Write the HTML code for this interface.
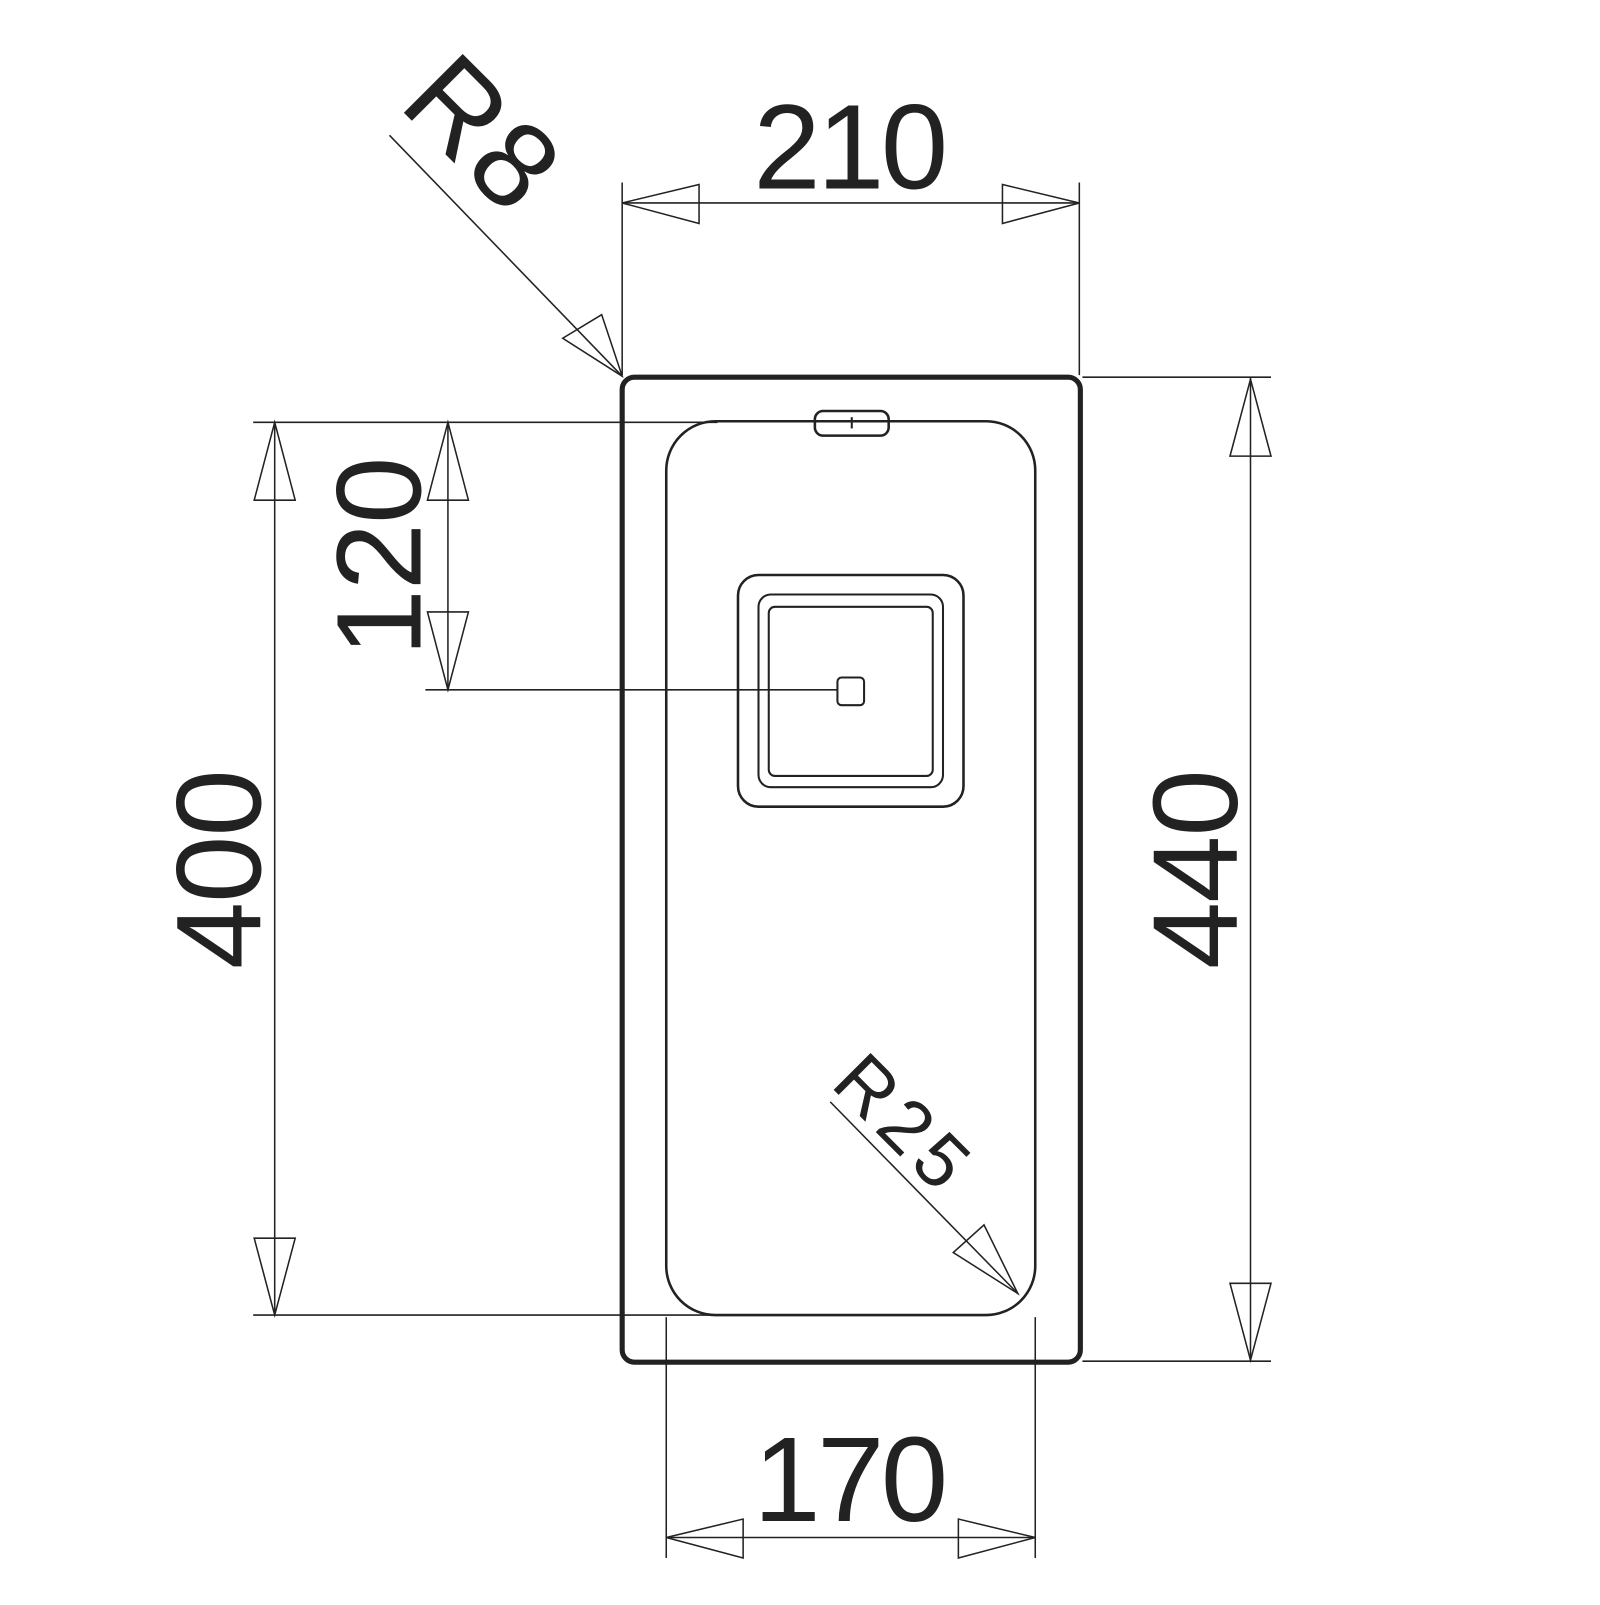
<!DOCTYPE html>
<html><head><style>html,body{margin:0;padding:0;background:#fff}</style></head>
<body>
<svg width="1600" height="1600" xmlns="http://www.w3.org/2000/svg" font-family="Liberation Sans, sans-serif" fill="none" stroke="#222">
<g transform="scale(1.025)">
<rect x="607" y="368" width="447" height="961" rx="12" stroke-width="5"/>
<rect x="650" y="411" width="360" height="872" rx="48" stroke-width="2.5"/>
<rect x="720" y="561" width="220" height="226" rx="20" stroke-width="2.5"/>
<rect x="740" y="580" width="180" height="188" rx="12" stroke-width="2"/>
<rect x="750" y="592" width="160" height="165" rx="6" stroke-width="2"/>
<rect x="817" y="661" width="26" height="27" rx="4" stroke-width="2"/>
<rect x="795" y="401" width="72" height="24" rx="8" stroke-width="2.5"/>
<line x1="831" y1="407" x2="831" y2="418" stroke-width="2"/>
<g stroke-width="1.5">
<line x1="607" y1="178" x2="607" y2="366"/><line x1="1053" y1="178" x2="1053" y2="366"/>
<line x1="607" y1="198" x2="1053" y2="198"/>
<polygon points="607,198 682,180 682,218"/><polygon points="1053,198 978,180 978,218"/>
<line x1="650" y1="1285" x2="650" y2="1520"/><line x1="1010" y1="1285" x2="1010" y2="1520"/>
<line x1="650" y1="1500" x2="1010" y2="1500"/>
<polygon points="650,1500 725,1482 725,1520"/><polygon points="1010,1500 935,1482 935,1520"/>
<line x1="247" y1="412" x2="700" y2="412"/><line x1="247" y1="1283" x2="700" y2="1283"/>
<line x1="268" y1="412" x2="268" y2="1283"/>
<polygon points="268,412 248,488 288,488"/><polygon points="268,1283 248,1208 288,1208"/>
<line x1="437" y1="412" x2="437" y2="673"/>
<polygon points="437,412 417,488 457,488"/><polygon points="437,673 417,597 457,597"/>
<line x1="415" y1="673" x2="817" y2="673"/>
<line x1="1056" y1="368" x2="1240" y2="368"/><line x1="1056" y1="1328" x2="1240" y2="1328"/>
<line x1="1220" y1="368" x2="1220" y2="1328"/>
<polygon points="1220,370 1200,445 1240,445"/><polygon points="1220,1327 1200,1252 1240,1252"/>
<line x1="380" y1="132" x2="607" y2="367"/>
<polygon points="607,367 549,330 587,307"/>
<line x1="810" y1="1075" x2="993" y2="1262"/>
<polygon points="993,1262 930,1222 960,1195"/>
</g>
<g fill="#222" stroke="none" font-size="118" text-anchor="middle">
<text x="830" y="184" textLength="190">210</text>
<text x="830" y="1484" textLength="190">170</text>
<text transform="translate(254,848) rotate(-90)" textLength="195">400</text>
<text transform="translate(410,543) rotate(-90)" textLength="195">120</text>
<text transform="translate(1207,848) rotate(-90)" textLength="195">440</text>
<text transform="translate(442,158) rotate(45)" textLength="155">R8</text>
<text transform="translate(862,1112) rotate(45)" font-size="74" textLength="150">R25</text>
</g>
</g>
</svg>
</body></html>
